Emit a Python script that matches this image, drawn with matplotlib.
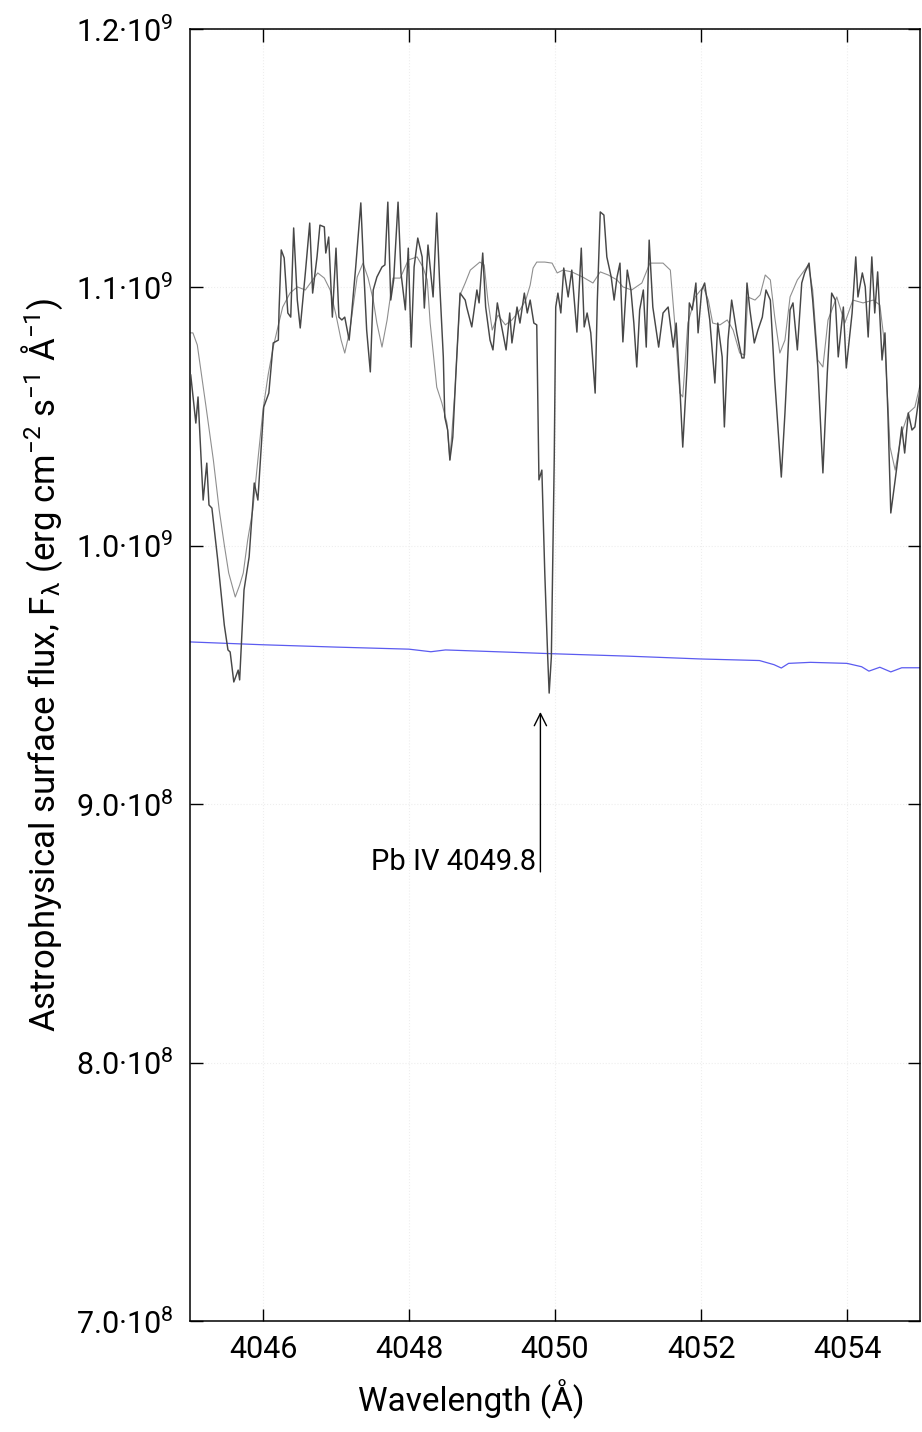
import matplotlib
matplotlib.use("Agg")
import matplotlib.pyplot as plt
import numpy as np

plt.rcParams['font.family'] = ['Roboto', 'DejaVu Sans']
plt.rcParams['mathtext.fontset'] = 'custom'
plt.rcParams['mathtext.rm'] = 'Roboto'
plt.rcParams['mathtext.it'] = 'Roboto'
plt.rcParams['mathtext.bf'] = 'Roboto:bold'

# observed spectrum (wavelength in Angstrom, flux in 1e9 erg cm-2 s-1 A-1)
obs_wl = [4045.01, 4045.08, 4045.11, 4045.18, 4045.23, 4045.26, 4045.30, 4045.38, 4045.47, 4045.52,
          4045.55, 4045.60, 4045.66, 4045.68, 4045.74, 4045.81, 4045.88, 4045.93, 4046.01, 4046.08,
          4046.14, 4046.21, 4046.22, 4046.25, 4046.29, 4046.34, 4046.38, 4046.42, 4046.47, 4046.51,
          4046.58, 4046.64, 4046.68, 4046.74, 4046.78, 4046.84, 4046.86, 4046.90, 4046.95, 4047.00,
          4047.04, 4047.08, 4047.12, 4047.18, 4047.21, 4047.27, 4047.34, 4047.38, 4047.42, 4047.47,
          4047.51, 4047.56, 4047.63, 4047.67, 4047.71, 4047.75, 4047.79, 4047.85, 4047.89, 4047.95,
          4047.99, 4048.03, 4048.07, 4048.12, 4048.18, 4048.21, 4048.26, 4048.33, 4048.38, 4048.42,
          4048.47, 4048.49, 4048.53, 4048.56, 4048.60, 4048.64, 4048.70, 4048.77, 4048.79, 4048.86,
          4048.93, 4048.96, 4049.01, 4049.05, 4049.11, 4049.15, 4049.21, 4049.26, 4049.33, 4049.38,
          4049.41, 4049.48, 4049.52, 4049.58, 4049.62, 4049.66, 4049.71, 4049.75, 4049.78, 4049.82,
          4049.86, 4049.90, 4049.92, 4049.95, 4049.99, 4050.01, 4050.04, 4050.08, 4050.12, 4050.18,
          4050.23, 4050.30, 4050.36, 4050.40, 4050.44, 4050.49, 4050.55, 4050.58, 4050.62, 4050.67,
          4050.71, 4050.77, 4050.81, 4050.85, 4050.89, 4050.93, 4050.99, 4051.04, 4051.08, 4051.12,
          4051.16, 4051.21, 4051.25, 4051.29, 4051.34, 4051.42, 4051.48, 4051.55, 4051.62, 4051.66,
          4051.71, 4051.75, 4051.81, 4051.84, 4051.88, 4051.93, 4051.96, 4052.01, 4052.05, 4052.12,
          4052.19, 4052.23, 4052.29, 4052.32, 4052.37, 4052.42, 4052.49, 4052.56, 4052.59, 4052.63,
          4052.67, 4052.73, 4052.78, 4052.84, 4052.89, 4052.95, 4053.01, 4053.10, 4053.15, 4053.22,
          4053.26, 4053.32, 4053.38, 4053.42, 4053.48, 4053.53, 4053.60, 4053.67, 4053.73, 4053.79,
          4053.84, 4053.88, 4053.95, 4053.99, 4054.07, 4054.12, 4054.15, 4054.21, 4054.25, 4054.29,
          4054.34, 4054.38, 4054.42, 4054.48, 4054.52, 4054.56, 4054.60, 4054.66, 4054.70, 4054.75,
          4054.79, 4054.84, 4054.89, 4054.93, 4055.00]
obs_flux = [1.0661, 1.0475, 1.0576, 1.0177, 1.0320, 1.0158, 1.0146, 0.9945, 0.9693, 0.9597,
            0.9589, 0.9473, 0.9519, 0.9481, 0.9829, 0.9957, 1.0243, 1.0177, 1.0537, 1.0591,
            1.0785, 1.0796, 1.0913, 1.1145, 1.1114, 1.0901, 1.0885, 1.1230, 1.0951, 1.0843,
            1.1056, 1.1249, 1.0978, 1.1118, 1.1241, 1.1234, 1.1133, 1.1195, 1.0885, 1.1152,
            1.0885, 1.0874, 1.0885, 1.0796, 1.0885, 1.1079, 1.1327, 1.1067, 1.0835, 1.0673,
            1.0990, 1.1040, 1.1079, 1.1087, 1.1330, 1.0951, 1.1029, 1.1330, 1.1056, 1.0913,
            1.1152, 1.0769, 1.1079, 1.1191, 1.1118, 1.0920, 1.1164, 1.0963, 1.1288, 1.1017,
            1.0731, 1.0498, 1.0448, 1.0332, 1.0421, 1.0653, 1.0978, 1.0951, 1.0924, 1.0847,
            1.0990, 1.0940, 1.1133, 1.0924, 1.0796, 1.0758, 1.0940, 1.0862, 1.0758, 1.0901,
            1.0785, 1.0924, 1.0862, 1.0978, 1.0901, 1.0951, 1.0862, 1.0855, 1.0255, 1.0293,
            0.9895, 0.9570, 0.9430, 0.9570, 1.0344, 1.0924, 1.0978, 1.0901, 1.1075, 1.0963,
            1.1067, 1.0827, 1.1152, 1.0847, 1.0901, 1.0824, 1.0591, 1.0951, 1.1292, 1.1280,
            1.1118, 1.1040, 1.0951, 1.1040, 1.1094, 1.0789, 1.1067, 1.0990, 1.0862, 1.0692,
            1.0913, 1.0990, 1.0769, 1.1183, 1.0924, 1.0769, 1.0901, 1.0924, 1.0769, 1.0862,
            1.0615, 1.0382, 1.0692, 1.0940, 1.0913, 1.1017, 1.0824, 1.0990, 1.1017, 1.0874,
            1.0630, 1.0862, 1.0731, 1.0460, 1.0796, 1.0951, 1.0824, 1.0727, 1.0727, 1.1017,
            1.0913, 1.0785, 1.0835, 1.0885, 1.0990, 1.0951, 1.0642, 1.0266, 1.0514, 1.0913,
            1.0940, 1.0758, 1.1017, 1.1056, 1.1094, 1.0951, 1.0692, 1.0282, 1.0669, 1.0978,
            1.0951, 1.0731, 1.0924, 1.0688, 1.0901, 1.1118, 1.0963, 1.1056, 1.1002, 1.0808,
            1.1118, 1.0901, 1.1060, 1.0719, 1.0824, 1.0514, 1.0127, 1.0255, 1.0344, 1.0460,
            1.0359, 1.0514, 1.0448, 1.0460, 1.0603]

# synthetic spectrum
mod_wl = [4045.00, 4045.04, 4045.10, 4045.22, 4045.32, 4045.40, 4045.47, 4045.53, 4045.62, 4045.68,
          4045.73, 4045.79, 4045.86, 4045.93, 4046.00, 4046.07, 4046.14, 4046.21, 4046.27, 4046.37,
          4046.47, 4046.58, 4046.66, 4046.75, 4046.84, 4046.92, 4047.00, 4047.07, 4047.12, 4047.19,
          4047.29, 4047.37, 4047.44, 4047.51, 4047.56, 4047.63, 4047.70, 4047.78, 4047.88, 4047.99,
          4048.11, 4048.19, 4048.25, 4048.29, 4048.38, 4048.45, 4048.52, 4048.56, 4048.63, 4048.70,
          4048.77, 4048.84, 4048.97, 4049.03, 4049.08, 4049.14, 4049.22, 4049.32, 4049.41, 4049.52,
          4049.60, 4049.66, 4049.70, 4049.75, 4049.86, 4049.96, 4050.03, 4050.11, 4050.23, 4050.38,
          4050.52, 4050.62, 4050.73, 4050.85, 4050.93, 4051.05, 4051.19, 4051.30, 4051.48, 4051.58,
          4051.64, 4051.71, 4051.75, 4051.82, 4051.92, 4052.03, 4052.10, 4052.16, 4052.26, 4052.36,
          4052.44, 4052.53, 4052.60, 4052.64, 4052.74, 4052.81, 4052.88, 4052.95, 4053.01, 4053.08,
          4053.15, 4053.22, 4053.32, 4053.47, 4053.53, 4053.60, 4053.67, 4053.74, 4053.86, 4053.97,
          4054.08, 4054.22, 4054.36, 4054.45, 4054.52, 4054.59, 4054.66, 4054.75, 4054.84, 4054.93,
          4055.00]
mod_flux = [1.0824, 1.0824, 1.0777, 1.0537, 1.0332, 1.0139, 1.0003, 0.9895, 0.9802, 0.9848,
            0.9895, 1.0022, 1.0139, 1.0332, 1.0526, 1.0661, 1.0769, 1.0854, 1.0924, 1.0978,
            1.1002, 1.0990, 1.1021, 1.1056, 1.1036, 1.0990, 1.0893, 1.0796, 1.0746, 1.0835,
            1.1040, 1.1094, 1.1036, 1.0951, 1.0862, 1.0769, 1.0874, 1.1036, 1.1036, 1.1106,
            1.1118, 1.1079, 1.1029, 1.0862, 1.0614, 1.0553, 1.0475, 1.0332, 1.0603, 1.0971,
            1.1017, 1.1067, 1.1098, 1.1087, 1.0951, 1.0835, 1.0893, 1.0855, 1.0874, 1.0913,
            1.0951, 1.1009, 1.1075, 1.1098, 1.1098, 1.1094, 1.1056, 1.1067, 1.1060, 1.1040,
            1.1017, 1.1060, 1.1048, 1.1029, 1.1002, 1.0990, 1.1017, 1.1094, 1.1094, 1.1067,
            1.0862, 1.0591, 1.0576, 1.0862, 1.0963, 1.1002, 1.0951, 1.0862, 1.0855, 1.0874,
            1.0835, 1.0746, 1.0738, 1.0963, 1.0951, 1.0971, 1.1048, 1.1029, 1.0885, 1.0746,
            1.0796, 1.0963, 1.1029, 1.1087, 1.0990, 1.0719, 1.0692, 1.0874, 1.0963, 1.0862,
            1.0951, 1.0940, 1.0951, 1.0932, 1.0769, 1.0382, 1.0293, 1.0437, 1.0514, 1.0537,
            1.0622]

# second model, nearly flat
flat_wl = [4045.0, 4046.0, 4047.0, 4048.0, 4048.3, 4048.5, 4049.0, 4050.0, 4051.0, 4052.0,
           4052.8, 4053.0, 4053.1, 4053.2, 4053.5, 4054.0, 4054.2, 4054.3, 4054.45, 4054.6,
           4054.75, 4055.0]
flat_flux = [0.9628, 0.9617, 0.9608, 0.9600, 0.9590, 0.9597, 0.9592, 0.9582, 0.9573, 0.9562,
             0.9556, 0.9540, 0.9527, 0.9545, 0.9549, 0.9545, 0.9532, 0.9515, 0.9530, 0.9512,
             0.9528, 0.9528]

scale = 1e9
pb_line = 4049.8
pb_label = 'Pb IV 4049.8'

yticks = [7.0e8, 8.0e8, 9.0e8, 1.0e9, 1.1e9, 1.2e9]
ytick_labels = ['7.0·10$^{8}$', '8.0·10$^{8}$', '9.0·10$^{8}$',
                '1.0·10$^{9}$', '1.1·10$^{9}$', '1.2·10$^{9}$']
xticks = [4046, 4048, 4050, 4052, 4054]

fig = plt.figure(figsize=(9.22, 14.32), dpi=100)
ax = fig.add_axes([190/922, 1 - 1321/1432, 730/922, 1292/1432])

ax.plot(mod_wl, np.array(mod_flux) * scale, color='#8f8f8f', lw=0.8, zorder=2)
ax.plot(obs_wl, np.array(obs_flux) * scale, color='#474747', lw=1.05, zorder=3)
ax.plot(flat_wl, np.array(flat_flux) * scale, color='#5b5bf0', lw=0.9, zorder=2)

# line identification
ax.annotate('', xy=(pb_line, 0.9357e9), xytext=(pb_line, 0.8738e9),
            arrowprops=dict(arrowstyle='->', color='black', lw=1.0,
                            mutation_scale=22, shrinkA=0, shrinkB=0))
ax.text(pb_line - 0.06, 0.8776e9, pb_label, ha='right', va='center', fontsize=21)

ax.set_xlim(4045, 4055)
ax.set_ylim(7.0e8, 1.2e9)
ax.set_xticks(xticks)
ax.set_xticklabels([str(t) for t in xticks])
ax.set_yticks(yticks)
ax.set_yticklabels(ytick_labels)

ax.tick_params(direction='in', length=9, width=1, top=True, right=True,
               labelsize=22, colors='black')
ax.tick_params(axis='x', pad=10)
ax.tick_params(axis='y', pad=12)
for s in ax.spines.values():
    s.set_linewidth(1.1)

ax.grid(True, color='#eeeeee', linestyle=':', linewidth=0.8, zorder=0)

ax.set_xlabel('Wavelength (Å)', fontsize=24)
ax.set_ylabel('Astrophysical surface flux, F$_{\\lambda}$ (erg cm$^{-2}$ s$^{-1}$ Å$^{-1}$)',
              fontsize=25)
ax.xaxis.set_label_coords(0.385, -0.045)
ax.yaxis.set_label_coords(-0.171, 0.508)

fig.savefig('out.png', dpi=100)
